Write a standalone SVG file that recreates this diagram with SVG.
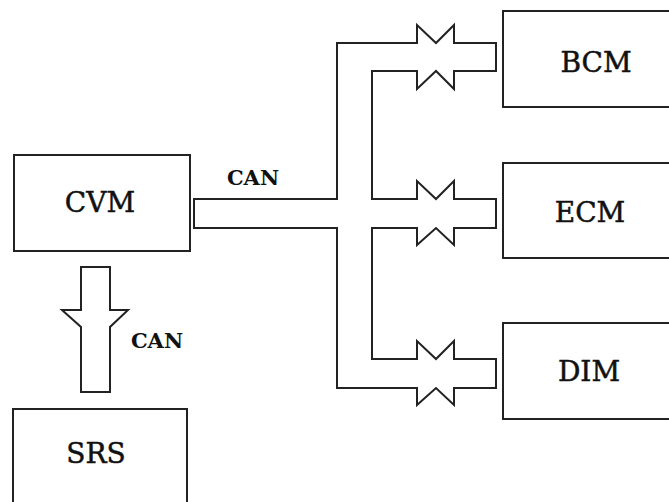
<svg xmlns="http://www.w3.org/2000/svg" width="669" height="502" viewBox="0 0 669 502">
<style>
.box{fill:#fff;stroke:#222;stroke-width:2}
text{font-family:'DejaVu Serif','Liberation Serif',serif;fill:#111;text-anchor:middle}
.lbl{font-size:28px;stroke:#111;stroke-width:0.5}
.can{font-size:21px;font-weight:bold}
.bus{fill:#fff;stroke:#222;stroke-width:2;stroke-linejoin:miter}
</style>
<rect width="669" height="502" fill="#fff"/>
<g id="connectors">
<polygon class="bus" points="337,199 337,43 417,43 417,25 436,43 454,25 454,43 496,43 496,71 454,71 454,89 436,71 417,89 417,71 372,71 372,199 417,199 417,181 436,199 454,181 454,199 496,199 496,228 454,228 454,245 436,228 417,245 417,228 372,228 372,359 417,359 417,341 436,359 454,341 454,359 496,359 496,388 454,388 454,405 436,388 417,405 417,388 337,388 337,228 194,228 194,199"/>
<polygon class="bus" points="81,267 110,267 110,310 128,310 110,327 110,392 81,392 81,327 62,310 81,310"/>
<text class="can" x="253" y="185">CAN</text>
<text class="can" x="157" y="348">CAN</text>
</g>
<g id="cvm"><rect class="box" x="14" y="155" width="176" height="96"/><text class="lbl" x="100" y="212">CVM</text></g>
<g id="srs"><rect class="box" x="13" y="409" width="174" height="110"/><text class="lbl" x="96" y="463">SRS</text></g>
<g id="bcm"><rect class="box" x="503" y="11" width="190" height="96"/><text class="lbl" x="596" y="72">BCM</text></g>
<g id="ecm"><rect class="box" x="503" y="163" width="190" height="95"/><text class="lbl" x="590" y="222">ECM</text></g>
<g id="dim"><rect class="box" x="503" y="323" width="190" height="96"/><text class="lbl" x="589" y="381">DIM</text></g>
</svg>
